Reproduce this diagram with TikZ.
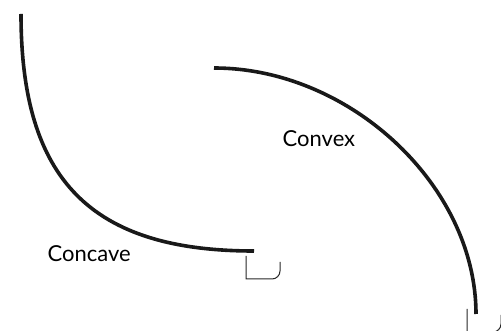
\documentclass[tikz,border=0pt]{standalone}
\usepackage{fontspec}
\setmainfont{Lato}
\begin{document}
\begin{tikzpicture}[x=1pt,y=-1pt,
  thick curve/.style={line width=3.6pt,draw=black!90},
  thin mark/.style={line width=1pt,draw=black!85},
  label text/.style={anchor=base west,inner sep=0pt,font=\fontsize{22}{26}\selectfont,text=black}]
\useasboundingbox (0,0) rectangle (501,331);
% concave curve
\coordinate (cvA) at (21,14);
\coordinate (cvB) at (254,251);
\draw[thick curve] (cvA) .. controls (21,180) and (91,251) .. (cvB);
% convex curve
\coordinate (cxA) at (214,68);
\coordinate (cxB) at (476,314);
\draw[thick curve] (cxA) .. controls (350,68) and (476,186) .. (cxB);
% marks
\draw[thin mark] (246,256) -- (246,279) -- (272,279) .. controls (276.4,279) and (280,275.4) .. (280,271) -- (280,262);
\draw[thin mark] (467,309) -- (467,332) -- (493,332) .. controls (497.4,332) and (501,328.4) .. (501,324) -- (501,315);
% labels
\node[label text] (concave) at (47.5,261.7) {Concave};
\node[label text] (convex) at (282.5,146.7) {Convex};
\end{tikzpicture}
\end{document}
